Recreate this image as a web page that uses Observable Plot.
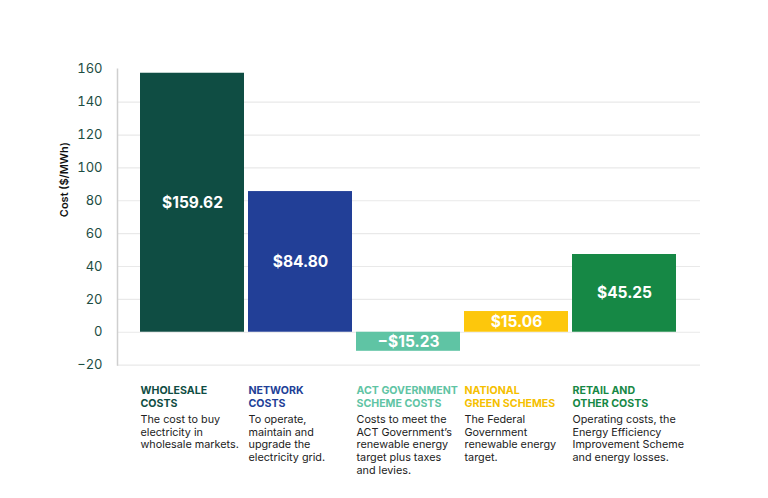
<!DOCTYPE html>
<html>
<head>
<meta charset="utf-8">
<script src="https://cdn.jsdelivr.net/npm/d3@7"></script>
<script src="https://cdn.jsdelivr.net/npm/@observablehq/plot@0.6"></script>
<style>
  html, body { margin: 0; padding: 0; background: #fff; }
  #chart svg { display: block; }
</style>
</head>
<body>
<div id="chart"></div>
<script>
// Data
const categories = ["Wholesale", "Network", "ACT Government", "National Green", "Retail"];
const barHeights = [157.6, 85.6, -11.6, 12.6, 47.3];      // drawn bar heights ($/MWh)
const valueLabels = ["$159.62", "$84.80", "−$15.23", "$15.06", "$45.25"];
const titles = [
  ["WHOLESALE", "COSTS"],
  ["NETWORK", "COSTS"],
  ["ACT GOVERNMENT", "SCHEME COSTS"],
  ["NATIONAL", "GREEN SCHEMES"],
  ["RETAIL AND", "OTHER COSTS"]
];
const descriptions = [
  ["The cost to buy", "electricity in", "wholesale markets."],
  ["To operate,", "maintain and", "upgrade the", "electricity grid."],
  ["Costs to meet the", "ACT Government’s", "renewable energy", "target plus taxes", "and levies."],
  ["The Federal", "Government", "renewable energy", "target."],
  ["Operating costs, the", "Energy Efficiency", "Improvement Scheme", "and energy losses."]
];
const colors = ["#0f4d43", "#223f97", "#5fc4a4", "#fdc70c", "#168845"];
const titleColors = ["#0f4d43", "#223f97", "#5fc4a4", "#f5c000", "#168845"];
const yTicks = [-20, 0, 20, 40, 60, 80, 100, 120, 140, 160];
const gridTicks = [-20, 0, 20, 40, 60, 80, 100, 120, 140];
const yTitle = "Cost ($/MWh)";

const rows = categories.map((c, i) => ({
  cat: c, value: barHeights[i], label: valueLabels[i], color: colors[i],
  title: titles[i].join("\n"), desc: descriptions[i].join("\n"), tcolor: titleColors[i]
}));

const bw = 104;
const font = "Inter, 'Noto Sans', sans-serif";

const chart = Plot.plot({
  width: 768,
  height: 498,
  marginTop: 68.8,
  marginBottom: 133.4,
  marginLeft: 117,
  marginRight: 68,
  style: {fontFamily: font, background: "#fff"},
  x: {domain: categories, range: [137, 679], paddingInner: 0.04, paddingOuter: 0.02, axis: null},
  y: {domain: [-20, 160], ticks: yTicks, label: null},
  marks: [
    Plot.ruleY(gridTicks, {stroke: "#e9e9e9", strokeWidth: 1.2}),
    Plot.barY(rows, {x: "cat", y: "value", fill: "color"}),
    Plot.axisY({
      ticks: yTicks, tickSize: 0, tickPadding: 15, fontSize: 13, color: "#1c4d42",
      tickFormat: d => d < 0 ? "−" + Math.abs(d) : String(d),
      label: null
    }),
    Plot.frame({anchor: "left", stroke: "#cfcfcf", strokeWidth: 1.5}),
    Plot.text([yTitle], {
      frameAnchor: "left", rotate: -90, dx: -53, fontSize: 11, fontWeight: 600, fill: "#111"
    }),
    Plot.text(rows, {
      x: "cat", y: d => d.value / 2, text: "label", fill: "white",
      fontSize: 15.5, fontWeight: 700
    }),
    Plot.text(rows, {
      x: "cat", frameAnchor: "bottom", text: "title", fill: "tcolor",
      textAnchor: "start", lineAnchor: "top", dx: -bw / 2, dy: 19,
      fontSize: 10.6, fontWeight: 700, lineHeight: 1.25
    }),
    Plot.text(rows, {
      x: "cat", frameAnchor: "bottom", text: "desc", fill: "#222",
      textAnchor: "start", lineAnchor: "top", dx: -bw / 2, dy: 49,
      fontSize: 10.8, fontWeight: 400, lineHeight: 1.17
    })
  ]
});
document.getElementById("chart").appendChild(chart);
</script>
</body>
</html>
